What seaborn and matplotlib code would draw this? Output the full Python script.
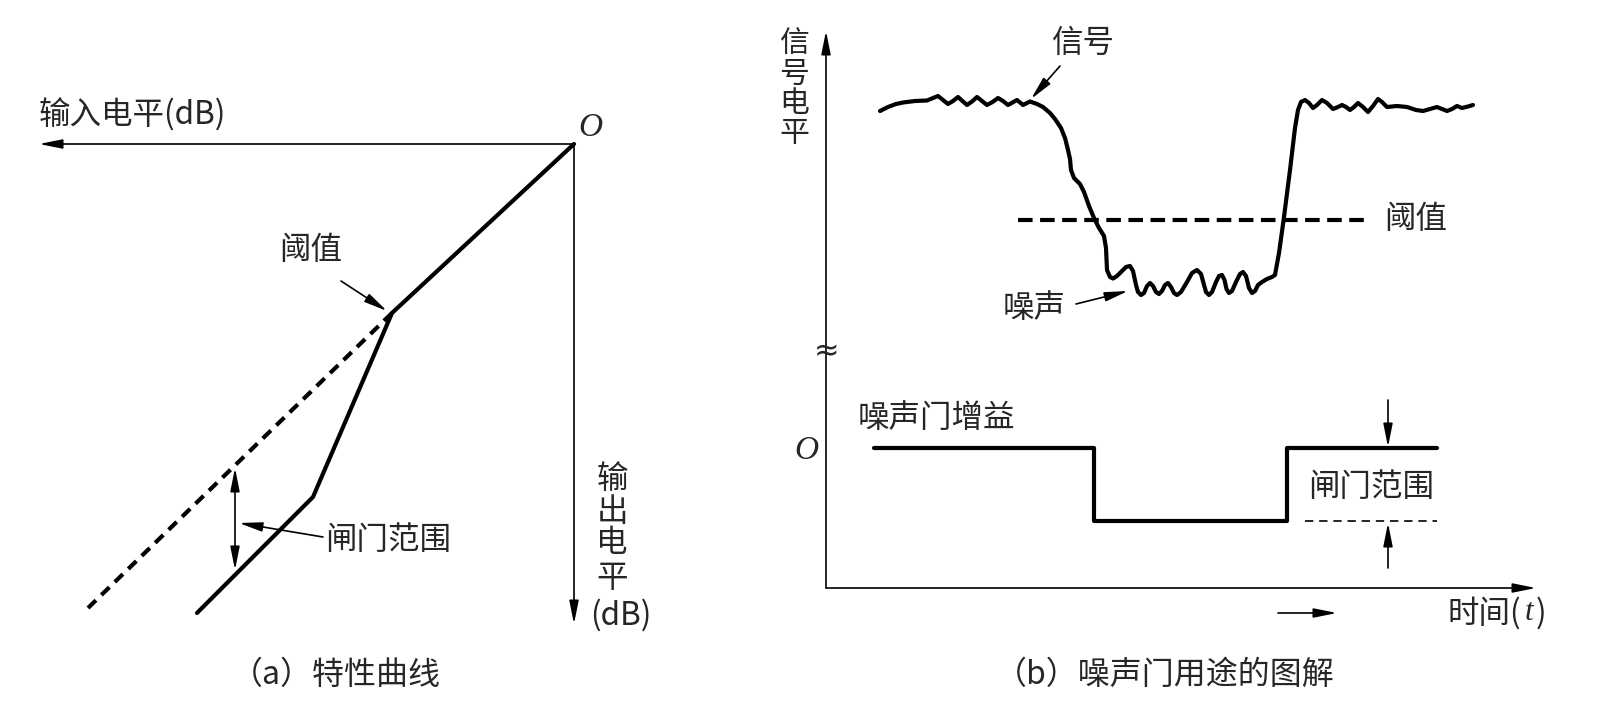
import pandas as pd
import seaborn as sns
import matplotlib.pyplot as plt

# (a) characteristic curve: input level (dB) vs output level (dB)
gate_in = [0, -18.2, -26.1, -37.7]
gate_out = [0, -16.9, -35.3, -46.9]
unity_in = [-18.2, -48.6]
unity_out = [-16.9, -46.4]
range_in = -33.9
range_out = [-32.4, -42.6]

# (b) signal level over time, one line per stretch of the curve
sig_t = [5.4, 6.2, 7.0, 7.7, 8.9, 10.1, 10.7, 11.2, 11.7, 12.2, 12.7, 13.2, 13.65, 14.1, 14.6, 15.1,
         15.6, 16.1, 16.65, 17.2, 17.7, 18.2, 18.65, 19.1, 19.4, 19.7, 20.1, 20.4, 21.1, 21.7, 22.4,
         22.9, 23.5, 23.9, 24.2, 24.4, 24.5, 24.8, 25.4, 25.8, 26.3, 26.8, 27.3, 27.8, 28.0,
         28.1, 28.4, 28.7, 29.1, 29.6, 30.0, 30.4, 30.7, 31.0, 31.2, 31.5, 31.8, 32.1, 32.4, 32.7, 33.0,
         33.3, 33.6, 33.9, 34.2, 34.5, 34.8, 35.1, 35.5, 36.1, 36.6, 37.1, 37.5, 37.8, 38.0, 38.3, 38.6,
         39.0, 39.3, 39.6, 39.85, 40.05, 40.3, 40.6, 41.0, 41.4, 41.7, 42.0, 42.3, 42.6, 42.9, 43.2, 43.6,
         44.1, 44.6, 44.9,
         45.3, 45.8, 46.4, 46.9, 47.2, 47.5, 47.9,
         48.3, 48.7, 49.1, 49.6, 50.1, 50.7, 51.2, 51.6, 52.0, 52.4, 52.8, 53.2, 53.7, 54.2, 54.7, 55.2,
         55.6, 56.1, 57.1, 58.1, 59.0, 59.7, 60.4, 61.1, 61.6, 62.1, 62.6, 63.1, 63.6, 64.2, 64.7]
sig_level = [47.7, 48.1, 48.4, 48.55, 48.7, 48.75, 49.0, 49.2, 48.8, 48.4, 48.7, 49.1, 48.7, 48.3, 48.65, 49.1,
             48.7, 48.3, 48.6, 49.0, 48.7, 48.3, 48.55, 48.8, 48.55, 48.3, 48.5, 48.65, 48.4, 48.1, 47.5,
             46.9, 46.0, 45.0, 43.8, 42.9, 41.8, 41.0, 40.4, 39.6, 38.2, 37.0, 36.0, 35.2, 34.0,
             31.8, 31.1, 30.95, 31.2, 31.7, 32.1, 32.2, 31.7, 30.3, 29.6, 29.3, 29.5, 30.2, 30.5, 30.2, 29.6,
             29.4, 29.7, 30.3, 30.5, 30.1, 29.5, 29.3, 29.6, 30.6, 31.5, 31.8, 31.4, 30.3, 29.6, 29.3, 29.6,
             30.6, 31.2, 31.3, 30.8, 29.9, 29.5, 29.7, 30.6, 31.4, 31.6, 31.2, 30.0, 29.5, 29.7, 30.3, 30.6,
             30.9, 31.1, 31.3,
             33.5, 37.1, 41.8, 46.0, 47.8, 48.6, 48.8,
             48.5, 48.0, 48.3, 48.8, 48.5, 47.9, 48.1, 48.3, 48.1, 47.8, 48.1, 48.5, 48.1, 47.6, 48.2, 48.9,
             48.6, 48.1, 48.2, 48.1, 47.8, 47.7, 47.9, 48.1, 47.9, 47.7, 47.9, 48.2, 48.0, 48.15, 48.3]
threshold_t = [19.2, 54.2]
threshold_level = 36.8

# noise gate gain
gain_t = [4.8, 26.8, 26.8, 46.1, 46.1, 61.1]
gain_level = [14.0, 14.0, 6.7, 6.7, 14.0, 14.0]
floor_t = [47.9, 61.1]

sns.set_theme(style="white")
plt.rcParams['font.family'] = ['Noto Sans CJK SC', 'DejaVu Sans']

W, H = 1598, 718
fig = plt.figure(figsize=(W / 100, H / 100), dpi=100)
FS = 22.7


def panel(x0, x1, y0, y1, ox, oy):
    # axes over a pixel box, 10 px per unit, origin at (ox, oy)
    ax = fig.add_axes([x0 / W, 1 - y1 / H, (x1 - x0) / W, (y1 - y0) / H])
    ax.set_xlim((x0 - ox) / 10, (x1 - ox) / 10)
    ax.set_ylim((oy - y1) / 10, (oy - y0) / 10)
    ax.set_axis_off()
    return ax


def arrow(ax, tip, tail, style="-|>", lw=1.2):
    ax.annotate("", xy=tip, xytext=tail,
                arrowprops=dict(arrowstyle=style + ",head_length=1.0,head_width=0.2",
                                mutation_scale=14, lw=lw, color="black",
                                shrinkA=0, shrinkB=0))


def line(ax, x, y, lw=3.0, ls="-"):
    df = pd.DataFrame({"x": x, "y": y})
    sns.lineplot(data=df, x="x", y="y", sort=False, estimator=None, ax=ax,
                 color="black", lw=lw, linestyle=ls, legend=False)
    ax.lines[-1].set_solid_joinstyle("round")
    ax.lines[-1].set_solid_capstyle("round")
    ax.set_axis_off()


# ---- (a) ----
axa = panel(20, 680, 60, 650, 574, 144)
arrow(axa, (-53.5, 0), (0, 0))
arrow(axa, (0, -48.0), (0, 0))
line(axa, gate_in, gate_out)
line(axa, unity_in, unity_out, ls=(0, (2.7, 1.8)))
arrow(axa, (range_in, range_out[0]), (range_in, range_out[1]), style="<|-|>")
arrow(axa, (-18.7, -16.7), (-23.3, -13.7))
arrow(axa, (-33.5, -37.9), (-25.1, -39.3))
axa.text(1.6, 1.6, "O", family="Liberation Serif", style="italic", fontsize=24, ha="center", va="center")
axa.text(-53.5, 2.9, "输入电平(dB)", fontsize=FS, ha="left", va="center")
axa.text(-26.3, -10.6, "阈值", fontsize=FS, ha="center", va="center")
axa.text(-18.6, -39.6, "闸门范围", fontsize=FS, ha="center", va="center")
for ch, yy in zip("输出电平", [-33.5, -36.8, -39.9, -43.4]):
    axa.text(3.8, yy, ch, fontsize=FS, ha="center", va="center")
axa.text(4.7, -47.1, "(dB)", fontsize=FS, ha="center", va="center")

# ---- (b) ----
axb = panel(740, 1590, 10, 640, 826, 588)
arrow(axb, (0, 55.7), (0, 0))
arrow(axb, (71.0, 0), (0, 0))
axb.text(0.1, 23.6, "≈", family="DejaVu Sans", fontsize=22, ha="center", va="center")
line(axb, sig_t, sig_level)
line(axb, threshold_t, [threshold_level] * 2, ls=(0, (3.5, 1.8)))
line(axb, gain_t, gain_level)
line(axb, floor_t, [gain_level[2]] * 2, lw=1.2, ls=(0, (5, 3.5)))
arrow(axb, (20.5, 48.9), (23.4, 52.2))
arrow(axb, (30.2, 29.7), (25.0, 28.4))
arrow(axb, (56.2, 14.1), (56.2, 18.8))
arrow(axb, (56.2, 6.5), (56.2, 2.0))
arrow(axb, (51.1, -2.5), (45.2, -2.5))
for ch, yy in zip("信号电平", [54.4, 51.4, 48.4, 45.4]):
    axb.text(-3.2, yy, ch, fontsize=21.5, ha="center", va="center")
axb.text(25.7, 54.5, "信号", fontsize=FS, ha="center", va="center")
axb.text(59.0, 36.9, "阈值", fontsize=FS, ha="center", va="center")
axb.text(20.8, 28.0, "噪声", fontsize=FS, ha="center", va="center")
axb.text(11.0, 17.0, "噪声门增益", fontsize=FS, ha="center", va="center")
axb.text(54.5, 10.1, "闸门范围", fontsize=FS, ha="center", va="center")
axb.text(-2.0, 13.7, "O", family="Liberation Serif", style="italic", fontsize=24, ha="center", va="center")
axb.text(69.5, -2.5, "时间(", fontsize=FS, ha="right", va="center")
axb.text(70.3, -2.5, "t", family="Liberation Serif", style="italic", fontsize=FS, ha="center", va="center")
axb.text(71.0, -2.5, ")", fontsize=FS, ha="left", va="center")

# captions
fig.text(336 / W, 1 - 675 / H, "（a）特性曲线", fontsize=23, ha="center", va="center")
fig.text(1165 / W, 1 - 675 / H, "（b）噪声门用途的图解", fontsize=23, ha="center", va="center")

fig.savefig("out.png", dpi=100)
